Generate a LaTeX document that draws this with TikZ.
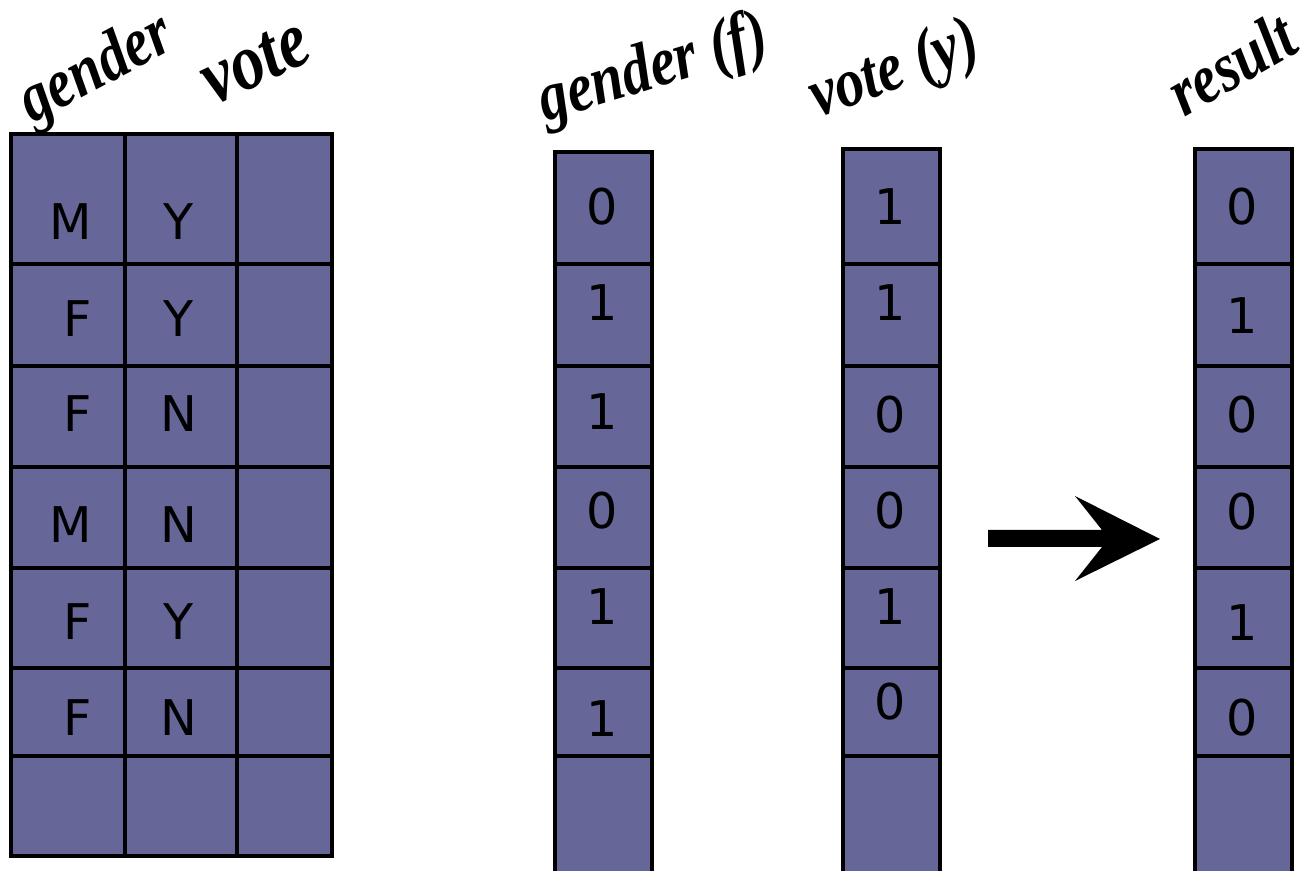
\documentclass[tikz,border=0pt]{standalone}
\usepackage{fontspec}
\setmainfont{Liberation Serif}
\newfontfamily\cellfont{DejaVu Sans}
\usetikzlibrary{calc}

\definecolor{cellfill}{RGB}{102,102,153}

\begin{document}
\begin{tikzpicture}[
    x=0.02cm, y=-0.02cm,
    cell/.style={draw=black, fill=cellfill, line width=1.9pt},
    grid/.style={draw=black, line width=2.4pt},
    entry/.style={font=\cellfont\fontsize{28}{28}\selectfont, inner sep=0pt},
    head/.style={font=\fontsize{33}{33}\selectfont\bfseries\itshape,
                 inner sep=0pt, anchor=base west},
    bigarrow/.style={fill=black}
  ]
  \useasboundingbox (0,0) rectangle (1309,871);
  \clip (0,0) rectangle (1309,871);

  % ========= raw table: gender / vote =========
  \filldraw[grid, fill=cellfill] (11,134) rectangle (332,856);
  \foreach \x in {125,237} \draw[grid] (\x,134) -- (\x,856);
  \foreach \y in {264,366,467,568,668,756} \draw[grid] (11,\y) -- (332,\y);

  \foreach \y/\g/\v [count=\i] in {222/M/Y, 319/F/Y, 414/F/N,
                                  525/M/N, 622/F/Y, 718/F/N} {
    \node[entry, anchor=east] (g\i) at (92,\y) {\g};
    \node[entry] (v\i) at (179,\y) {\v};
  }

  \node[head, rotate=28, yscale=1.2] (hgender) at (32,124) {gender};
  \node[head, rotate=25, yscale=1.2, font=\fontsize{38}{38}\selectfont\bfseries\itshape]
    (hvote) at (214,106) {vote};

  % ========= encoded columns =========
  \foreach \x/\top in {555/152, 843/149, 1195/149} {
    \filldraw[cell] (\x,\top) rectangle ++(97,730);
    \foreach \y in {264,366,467,568,668,756} \draw[cell] (\x,\y) -- ++(97,0);
  }

  % gender (f)
  \foreach \y/\d [count=\i] in {207/0, 303/1, 412/1, 511/0, 607/1, 719/1}
    \node[entry] (f\i) at (602,\y) {\d};
  % vote (y)
  \foreach \y/\d [count=\i] in {207/1, 303/1, 415/0, 511/0, 607/1, 702/0}
    \node[entry] (y\i) at (890,\y) {\d};
  % result
  \foreach \y/\d [count=\i] in {207/0, 316/1, 415/0, 512/0, 623/1, 718/0}
    \node[entry] (r\i) at (1242,\y) {\d};

  \node[head, rotate=17, yscale=1.2] (hgenderf) at (545,122) {gender (f)};
  \node[head, rotate=20, yscale=1.2] (hvotey)   at (818,118) {vote (y)};
  \node[head, rotate=30, yscale=1.2] (hresult)  at (1184,118) {result};

  % ========= block arrow =========
  \fill[bigarrow] (988,530) -- (1102,530) -- (1075,496) -- (1160,539)
    -- (1075,581) -- (1102,547) -- (988,547) -- cycle;

\end{tikzpicture}
\end{document}
